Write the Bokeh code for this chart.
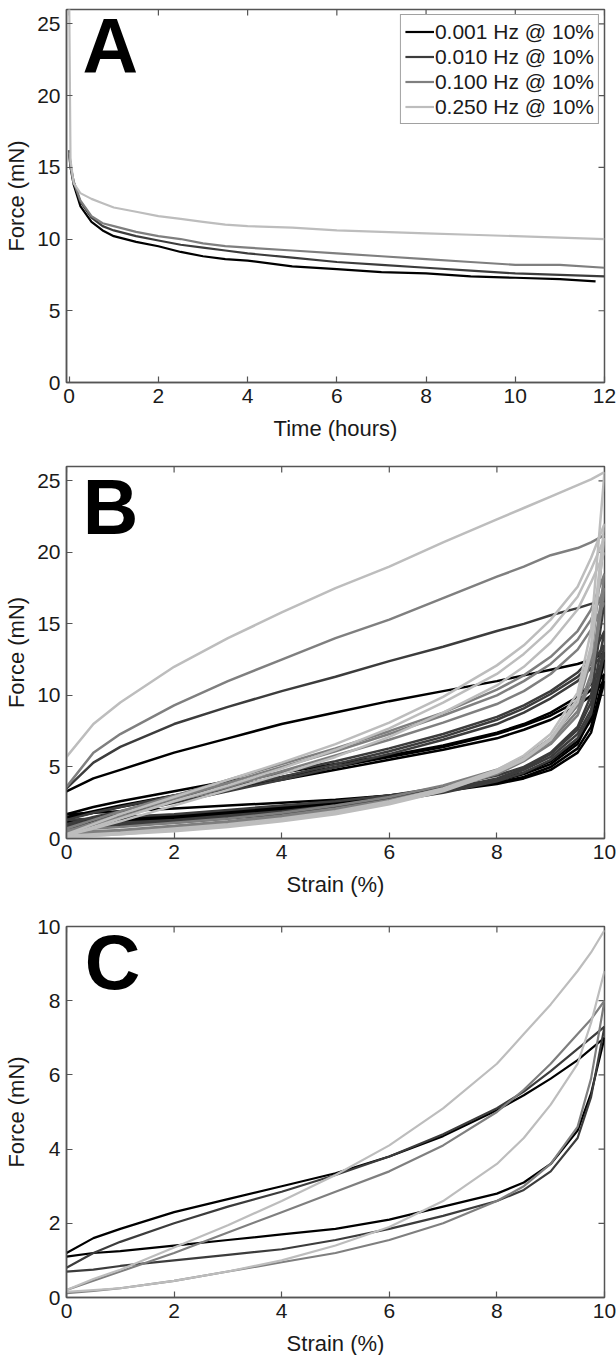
import math
from bokeh.plotting import figure
from bokeh.models import FixedTicker, Legend, LegendItem, Range1d
from bokeh.core.properties import value
from bokeh.layouts import column
from bokeh.embed import file_html
from bokeh.resources import INLINE

# ---------------- data ----------------
series_names = ["0.001 Hz @ 10%", "0.010 Hz @ 10%", "0.100 Hz @ 10%", "0.250 Hz @ 10%"]
series_colors = ["#000000", "#3c3c3c", "#7f7f7f", "#bdbdbd"]

# Panel A: force relaxation vs time (hours)
time_h = [0, 0.03, 0.1, 0.25, 0.5, 0.75, 1, 1.5, 2, 2.5, 3, 3.5, 4, 5, 6, 7, 8, 9, 10, 11, 11.8]
time_h_long = [0, 0.03, 0.1, 0.25, 0.5, 0.75, 1, 1.5, 2, 2.5, 3, 3.5, 4, 5, 6, 7, 8, 9, 10, 11, 12]
force_a_0001 = [16.0, 15.0, 13.8, 12.3, 11.2, 10.6, 10.2, 9.8, 9.5, 9.1, 8.8, 8.6, 8.5, 8.1, 7.9, 7.7, 7.6, 7.4, 7.3, 7.2, 7.05]
force_a_0010 = [16.2, 15.2, 14.0, 12.6, 11.5, 10.9, 10.6, 10.2, 9.9, 9.6, 9.4, 9.2, 9.0, 8.7, 8.4, 8.2, 8.0, 7.8, 7.6, 7.5, 7.4]
force_a_0100 = [16.0, 15.0, 14.0, 12.7, 11.6, 11.1, 10.9, 10.5, 10.2, 10.0, 9.7, 9.5, 9.4, 9.2, 9.0, 8.8, 8.6, 8.4, 8.2, 8.2, 8.0]
force_a_0250 = [27.0, 15.5, 13.9, 13.2, 12.8, 12.5, 12.2, 11.9, 11.6, 11.4, 11.2, 11.0, 10.9, 10.8, 10.6, 10.5, 10.4, 10.3, 10.2, 10.1, 10.0]

# Panel B: all cycles, force vs strain (%)
strain_b = [0, 0.5, 1, 2, 3, 4, 5, 6, 7, 8, 8.5, 9, 9.5, 9.75, 10]
b_0001 = [
    [3.3, 4.2, 4.8, 6.0, 7.0, 8.0, 8.8, 9.6, 10.3, 11.0, 11.4, 11.8, 12.2, 12.5, 13.0],
    [1.7, 2.2, 2.6, 3.3, 4.0, 4.6, 5.2, 5.8, 6.5, 7.4, 8.0, 8.8, 9.9, 10.8, 12.5],
    [1.5, 1.9, 2.3, 3.0, 3.6, 4.3, 5.0, 5.7, 6.4, 7.3, 7.9, 8.6, 9.6, 10.4, 11.5],
    [1.4, 1.8, 2.2, 2.9, 3.5, 4.1, 4.8, 5.5, 6.2, 7.0, 7.6, 8.3, 9.3, 10.0, 11.0],
    [1.7, 1.8, 1.9, 2.1, 2.3, 2.5, 2.7, 3.0, 3.4, 4.0, 4.5, 5.2, 6.6, 8.5, 13.0],
    [1.2, 1.3, 1.4, 1.6, 1.9, 2.2, 2.6, 3.0, 3.5, 4.1, 4.6, 5.4, 6.8, 8.3, 12.5],
    [1.1, 1.2, 1.3, 1.5, 1.8, 2.1, 2.5, 2.9, 3.4, 3.9, 4.3, 5.0, 6.3, 7.8, 11.5],
    [1.0, 1.1, 1.2, 1.4, 1.7, 2.0, 2.4, 2.8, 3.3, 3.8, 4.2, 4.8, 6.0, 7.4, 11.0],
]
b_0010 = [
    [3.5, 5.3, 6.4, 8.0, 9.2, 10.3, 11.3, 12.4, 13.4, 14.5, 15.0, 15.6, 16.1, 16.4, 16.6],
    [1.3, 1.8, 2.2, 3.0, 3.8, 4.6, 5.4, 6.3, 7.3, 8.5, 9.3, 10.3, 11.6, 12.6, 14.5],
    [1.0, 1.5, 1.9, 2.7, 3.5, 4.3, 5.2, 6.1, 7.1, 8.3, 9.1, 10.1, 11.3, 12.2, 13.5],
    [0.9, 1.3, 1.7, 2.5, 3.3, 4.1, 5.0, 5.9, 6.9, 8.0, 8.8, 9.8, 11.0, 11.9, 13.0],
    [1.3, 1.4, 1.5, 1.7, 2.0, 2.3, 2.6, 3.0, 3.6, 4.4, 5.0, 6.0, 7.8, 10.0, 16.6],
    [0.9, 1.0, 1.1, 1.3, 1.6, 1.9, 2.3, 2.8, 3.4, 4.2, 4.9, 5.9, 7.6, 9.5, 14.5],
    [0.8, 0.9, 1.0, 1.2, 1.5, 1.8, 2.2, 2.7, 3.3, 4.1, 4.8, 5.7, 7.3, 9.0, 13.5],
    [0.7, 0.8, 0.9, 1.1, 1.4, 1.7, 2.1, 2.6, 3.2, 4.0, 4.6, 5.5, 7.0, 8.7, 13.0],
]
b_0100 = [
    [3.6, 6.0, 7.3, 9.3, 11.0, 12.5, 14.0, 15.3, 16.8, 18.3, 19.0, 19.8, 20.3, 20.7, 21.2],
    [0.7, 1.3, 1.9, 3.0, 4.1, 5.2, 6.3, 7.5, 8.8, 10.4, 11.4, 12.7, 14.5, 16.0, 18.5],
    [0.5, 1.1, 1.7, 2.8, 3.9, 5.0, 6.1, 7.3, 8.6, 10.0, 11.0, 12.2, 13.9, 15.3, 17.5],
    [0.4, 1.0, 1.5, 2.6, 3.6, 4.7, 5.8, 6.9, 8.1, 9.4, 10.3, 11.5, 13.2, 14.6, 16.5],
    [0.6, 0.7, 0.8, 1.1, 1.4, 1.8, 2.3, 2.9, 3.7, 4.8, 5.7, 7.0, 9.3, 12.5, 21.2],
    [0.4, 0.5, 0.6, 0.9, 1.2, 1.6, 2.1, 2.7, 3.5, 4.6, 5.5, 6.8, 8.9, 11.5, 18.5],
    [0.3, 0.4, 0.5, 0.8, 1.1, 1.5, 2.0, 2.6, 3.4, 4.5, 5.4, 6.6, 8.6, 11.0, 17.5],
]
b_0250 = [
    [5.7, 8.0, 9.5, 12.0, 14.0, 15.8, 17.5, 19.0, 20.7, 22.3, 23.1, 23.9, 24.7, 25.1, 25.6],
    [0.3, 1.0, 1.7, 2.9, 4.1, 5.3, 6.6, 8.1, 9.9, 12.1, 13.5, 15.3, 17.6, 19.6, 22.0],
    [0.2, 0.8, 1.4, 2.6, 3.7, 4.9, 6.2, 7.7, 9.5, 11.5, 12.9, 14.6, 16.9, 18.8, 21.0],
    [0.2, 0.7, 1.2, 2.3, 3.4, 4.5, 5.7, 7.1, 8.8, 10.7, 12.0, 13.7, 16.0, 17.9, 20.0],
    [0.2, 0.3, 0.4, 0.7, 1.0, 1.4, 1.9, 2.6, 3.5, 4.8, 5.8, 7.3, 10.2, 14.5, 25.6],
    [0.1, 0.2, 0.3, 0.6, 0.9, 1.3, 1.8, 2.5, 3.4, 4.7, 5.6, 7.0, 9.8, 13.5, 22.0],
    [0.1, 0.2, 0.3, 0.5, 0.8, 1.2, 1.7, 2.4, 3.3, 4.6, 5.5, 6.9, 9.5, 13.0, 21.0],
]

# Panel C: single cycle, force vs strain (%)
strain_c = [0, 0.5, 1, 2, 3, 4, 5, 6, 7, 8, 8.5, 9, 9.5, 9.75, 10]
c_0001 = [
    [1.2, 1.6, 1.85, 2.3, 2.65, 3.0, 3.35, 3.8, 4.35, 5.05, 5.45, 5.9, 6.4, 6.7, 7.0],
    [1.1, 1.2, 1.25, 1.4, 1.55, 1.7, 1.85, 2.1, 2.45, 2.8, 3.1, 3.6, 4.5, 5.5, 7.0],
]
c_0010 = [
    [0.8, 1.2, 1.5, 2.0, 2.45, 2.85, 3.3, 3.8, 4.4, 5.1, 5.55, 6.1, 6.7, 7.0, 7.3],
    [0.7, 0.75, 0.85, 1.0, 1.15, 1.3, 1.55, 1.85, 2.2, 2.6, 2.9, 3.4, 4.3, 5.4, 7.3],
]
c_0100 = [
    [0.2, 0.45, 0.7, 1.2, 1.75, 2.3, 2.85, 3.4, 4.1, 5.0, 5.6, 6.3, 7.1, 7.5, 8.0],
    [0.12, 0.18, 0.25, 0.45, 0.7, 0.95, 1.2, 1.55, 2.0, 2.6, 3.0, 3.6, 4.6, 5.9, 8.0],
]
c_0250 = [
    [0.2, 0.5, 0.75, 1.35, 1.95, 2.6, 3.3, 4.1, 5.1, 6.3, 7.1, 7.9, 8.8, 9.3, 9.9],
    [0.15, 0.2, 0.25, 0.45, 0.7, 1.0, 1.4, 1.9, 2.6, 3.6, 4.3, 5.2, 6.3, 7.4, 8.8],
]

ticks_time = [0, 2, 4, 6, 8, 10, 12]
ticks_strain = [0, 2, 4, 6, 8, 10]
ticks_force_ab = [0, 5, 10, 15, 20, 25]
ticks_force_c = [0, 2, 4, 6, 8, 10]

# ---------------- styling ----------------
FONT = "Liberation Sans"
AX = "#555555"
TXT = "#1a1a1a"
FW = 538
TICK_FS = "21px"
LABEL_FS = "22px"


def make_fig(xr, yr, fh, bt, bb, xticks, yticks, xlabel):
    p = figure(frame_width=FW, frame_height=fh,
               x_range=Range1d(*xr), y_range=Range1d(*yr),
               min_border_left=66, min_border_right=12,
               min_border_top=bt, min_border_bottom=bb,
               output_backend="svg", toolbar_location=None, tools="")
    p.grid.visible = False
    p.outline_line_color = AX
    p.outline_line_width = 1.5
    p.background_fill_color = "white"
    p.border_fill_color = "white"
    p.xaxis.ticker = FixedTicker(ticks=xticks)
    p.yaxis.ticker = FixedTicker(ticks=yticks)
    for ax in p.axis:
        ax.axis_line_color = AX
        ax.axis_line_width = 1.5
        ax.major_tick_line_color = AX
        ax.major_tick_line_width = 1.2
        ax.major_tick_in = 6
        ax.major_tick_out = 0
        ax.minor_tick_line_color = None
        ax.major_label_text_font = FONT
        ax.major_label_text_font_size = TICK_FS
        ax.major_label_text_color = TXT
        ax.major_label_standoff = 6
        ax.axis_label_text_font = FONT
        ax.axis_label_text_font_size = LABEL_FS
        ax.axis_label_text_font_style = "normal"
        ax.axis_label_text_color = TXT
    p.xaxis.axis_label_standoff = 10
    p.yaxis.axis_label_standoff = 5
    p.xaxis.axis_label = xlabel
    p.yaxis.axis_label = "Force (mN)"
    # inward ticks on the top and right edges of the box
    p.ray(x=xticks, y=[yr[1]] * len(xticks), length=6, angle=-math.pi / 2,
          length_units="screen", line_color=AX, line_width=1.2)
    p.ray(x=[xr[1]] * len(yticks), y=yticks, length=6, angle=math.pi,
          length_units="screen", line_color=AX, line_width=1.2)
    return p


def panel_letter(p, x, y, t):
    p.text(x=[x], y=[y], text=[t], text_font=value("Liberation Sans"),
           text_font_size=value("77px"), text_font_style="bold", text_color="black",
           text_baseline="alphabetic", text_align="left")


# ---------------- Panel A ----------------
pA = make_fig((-0.06, 12), (0, 26), 373, 9, 60, ticks_time, ticks_force_ab, "Time (hours)")
a_series = [force_a_0001, force_a_0010, force_a_0100, force_a_0250]
a_times = [time_h, time_h_long, time_h_long, time_h_long]
items = []
for name, col, tt, yy in zip(series_names, series_colors, a_times, a_series):
    r = pA.line(tt, yy, line_color=col, line_width=2.2)
    items.append(LegendItem(label=name, renderers=[r]))
leg = Legend(items=items, location="top_right", margin=5, padding=4, spacing=0,
             label_height=25, glyph_height=25, glyph_width=29, label_standoff=1,
             label_text_font=FONT, label_text_font_size="21px", label_text_color=TXT,
             border_line_color="#444444", border_line_width=1.2,
             background_fill_color="white", background_fill_alpha=1.0)
pA.add_layout(leg)
panel_letter(pA, 0.30, 23.45, "A")

# ---------------- Panel B ----------------
pB = make_fig((0, 10), (0, 26), 372, 23, 60, ticks_strain, ticks_force_ab, "Strain (%)")
for col, curves in zip(series_colors, [b_0001, b_0010, b_0100, b_0250]):
    for yy in curves:
        pB.line(strain_b, yy, line_color=col, line_width=2.5)
panel_letter(pB, 0.30, 23.2, "B")

# ---------------- Panel C ----------------
pC = make_fig((0, 10), (0, 10), 371, 27, 59, ticks_strain, ticks_force_c, "Strain (%)")
for col, curves in zip(series_colors, [c_0001, c_0010, c_0100, c_0250]):
    for yy in curves:
        pC.line(strain_c, yy, line_color=col, line_width=2.2)
panel_letter(pC, 0.34, 9.05, "C")

layout = column(pA, pB, pC, spacing=0)
open("out.html", "w").write(file_html(layout, INLINE))
